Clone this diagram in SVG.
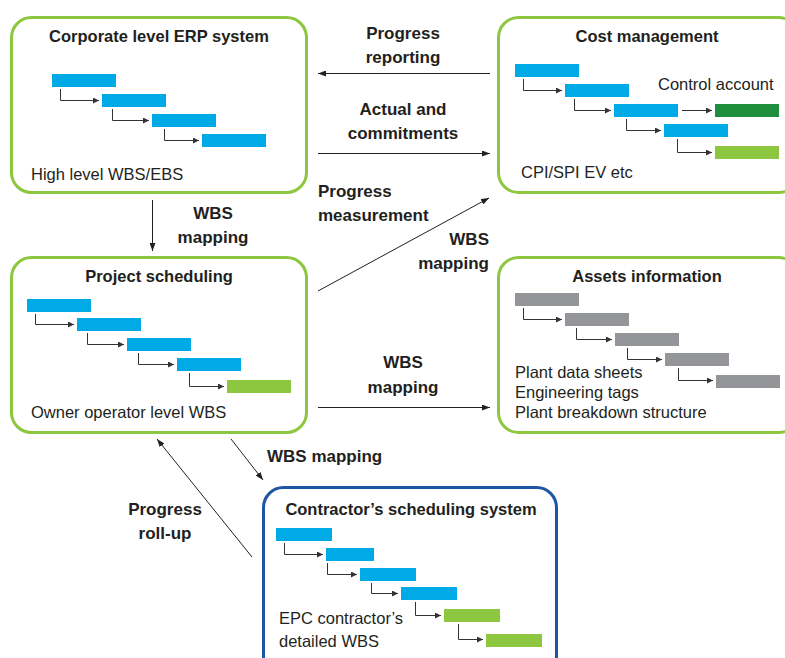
<svg xmlns="http://www.w3.org/2000/svg" width="785" height="658" viewBox="0 0 785 658">
  <style>
    .box { fill: #ffffff; stroke: #8dc63f; stroke-width: 3; }
    .box-blue { fill: #ffffff; stroke: #1d56a3; stroke-width: 3; }
    .title { font-family: "Liberation Sans", Arial, sans-serif; font-weight: bold; font-size: 16.5px; fill: #231f20; text-anchor: middle; }
    .body { font-family: "Liberation Sans", Arial, sans-serif; font-size: 16.5px; fill: #231f20; }
    .label { font-family: "Liberation Sans", Arial, sans-serif; font-weight: bold; font-size: 17px; fill: #231f20; }
    .mid { text-anchor: middle; }
    .end { text-anchor: end; }
    .bar-blue { fill: #00aae7; }
    .bar-lgreen { fill: #8dc63f; }
    .bar-dgreen { fill: #1e8d3c; }
    .bar-grey { fill: #939598; }
    .link { fill: none; stroke: #333333; stroke-width: 1; marker-end: url(#tick); }
    .flow { fill: none; stroke: #231f20; stroke-width: 1; marker-end: url(#head); }
  </style>
  <defs>
    <marker id="tick" viewBox="0 0 6 6" refX="6" refY="3" markerWidth="6" markerHeight="6" markerUnits="userSpaceOnUse" orient="auto">
      <path d="M0 0L6 3L0 6z" fill="#333333"/>
    </marker>
    <marker id="head" viewBox="0 0 8 6" refX="8" refY="3" markerWidth="8" markerHeight="6" markerUnits="userSpaceOnUse" orient="auto">
      <path d="M0 0L8 3L0 6z" fill="#231f20"/>
    </marker>
  </defs>

  <rect width="785" height="658" fill="#ffffff"/>

  <!-- Corporate level ERP system -->
  <g id="erp">
    <rect class="box" x="11.5" y="17.5" width="295" height="175" rx="20"/>
    <text class="title" x="159" y="42">Corporate level ERP system</text>
    <rect class="bar-blue" x="52" y="74" width="64" height="13"/>
    <rect class="bar-blue" x="102" y="94" width="64" height="13"/>
    <rect class="bar-blue" x="152" y="114" width="64" height="13"/>
    <rect class="bar-blue" x="202" y="134" width="64" height="13"/>
    <path class="link" d="M60.5 89V100.5H99"/>
    <path class="link" d="M112.5 109V120.5H149"/>
    <path class="link" d="M164.5 129V140.5H199"/>
    <text class="body" x="31" y="180">High level WBS/EBS</text>
  </g>

  <!-- Cost management -->
  <g id="cost">
    <rect class="box" x="498.5" y="17.5" width="300" height="175" rx="20"/>
    <text class="title" x="647" y="42">Cost management</text>
    <text class="body" x="658" y="90">Control account</text>
    <rect class="bar-blue" x="515" y="64" width="64" height="13"/>
    <rect class="bar-blue" x="565" y="84" width="64" height="13"/>
    <rect class="bar-blue" x="614" y="104" width="64" height="13"/>
    <rect class="bar-dgreen" x="715" y="104" width="64" height="13"/>
    <rect class="bar-blue" x="664" y="124" width="64" height="13"/>
    <rect class="bar-lgreen" x="715" y="146" width="64" height="13"/>
    <path class="link" d="M523.5 79V90.5H562"/>
    <path class="link" d="M574.5 99V110.5H611"/>
    <path class="link" d="M682 110.5H712"/>
    <path class="link" d="M626.5 119V130.5H661"/>
    <path class="link" d="M677.5 139V152.5H712"/>
    <text class="body" x="521" y="178">CPI/SPI EV etc</text>
  </g>

  <!-- Project scheduling -->
  <g id="project">
    <rect class="box" x="11.5" y="257.5" width="295" height="175" rx="20"/>
    <text class="title" x="159" y="282">Project scheduling</text>
    <rect class="bar-blue" x="27" y="299" width="64" height="13"/>
    <rect class="bar-blue" x="77" y="318" width="64" height="13"/>
    <rect class="bar-blue" x="127" y="338" width="64" height="13"/>
    <rect class="bar-blue" x="177" y="358" width="64" height="13"/>
    <rect class="bar-lgreen" x="227" y="380" width="64" height="13"/>
    <path class="link" d="M35.5 314V324.5H74"/>
    <path class="link" d="M87.5 333V344.5H124"/>
    <path class="link" d="M138.5 353V364.5H174"/>
    <path class="link" d="M189.5 373V386.5H224"/>
    <text class="body" x="31" y="418">Owner operator level WBS</text>
  </g>

  <!-- Assets information -->
  <g id="assets">
    <rect class="box" x="498.5" y="257.5" width="300" height="175" rx="20"/>
    <text class="title" x="647" y="282">Assets information</text>
    <rect class="bar-grey" x="515" y="293" width="64" height="13"/>
    <rect class="bar-grey" x="565" y="313" width="64" height="13"/>
    <rect class="bar-grey" x="615" y="333" width="64" height="13"/>
    <rect class="bar-grey" x="665" y="353" width="64" height="13"/>
    <rect class="bar-grey" x="716" y="375" width="64" height="13"/>
    <path class="link" d="M523.5 308V319.5H562"/>
    <path class="link" d="M576.5 328V339.5H612"/>
    <path class="link" d="M627.5 348V359.5H662"/>
    <path class="link" d="M678.5 368V380.5H713"/>
    <text class="body" x="515" y="378">Plant data sheets</text>
    <text class="body" x="515" y="398">Engineering tags</text>
    <text class="body" x="515" y="418">Plant breakdown structure</text>
  </g>

  <!-- Contractor's scheduling system -->
  <g id="contractor">
    <rect class="box-blue" x="263.5" y="487.5" width="293" height="190" rx="20"/>
    <text class="title" x="411" y="515">Contractor’s scheduling system</text>
    <rect class="bar-blue" x="276" y="528" width="56" height="13"/>
    <rect class="bar-blue" x="326" y="548" width="48" height="13"/>
    <rect class="bar-blue" x="360" y="568" width="56" height="13"/>
    <rect class="bar-blue" x="401" y="587" width="56" height="13"/>
    <rect class="bar-lgreen" x="444" y="609" width="56" height="13"/>
    <rect class="bar-lgreen" x="486" y="634" width="56" height="13"/>
    <path class="link" d="M284.5 543V554.5H323"/>
    <path class="link" d="M327.5 563V574.5H357"/>
    <path class="link" d="M371.5 583V593.5H398"/>
    <path class="link" d="M415.5 602V615.5H441"/>
    <path class="link" d="M458.5 624V639.5H483"/>
    <text class="body" x="279" y="624">EPC contractor’s</text>
    <text class="body" x="279" y="647">detailed WBS</text>
  </g>

  <!-- Connectors between systems -->
  <g id="connectors">
    <path class="flow" d="M490 73.5H318"/>
    <path class="flow" d="M318 153.5H490"/>
    <path class="flow" d="M152.5 200V251"/>
    <path class="flow" d="M318 291L489 198"/>
    <path class="flow" d="M318 407.5H490"/>
    <path class="flow" d="M231 439L263 480"/>
    <path class="flow" d="M252 557L157 439"/>
  </g>

  <!-- Connector labels -->
  <g id="labels">
    <text class="label mid" x="403" y="39">Progress</text>
    <text class="label mid" x="403" y="63">reporting</text>
    <text class="label mid" x="403" y="115">Actual and</text>
    <text class="label mid" x="403" y="139">commitments</text>
    <text class="label mid" x="213" y="219">WBS</text>
    <text class="label mid" x="213" y="243">mapping</text>
    <text class="label" x="318" y="197">Progress</text>
    <text class="label" x="318" y="221">measurement</text>
    <text class="label end" x="489" y="245">WBS</text>
    <text class="label end" x="489" y="269">mapping</text>
    <text class="label mid" x="403" y="368">WBS</text>
    <text class="label mid" x="403" y="393">mapping</text>
    <text class="label" x="267" y="462">WBS mapping</text>
    <text class="label mid" x="165" y="515">Progress</text>
    <text class="label mid" x="165" y="539">roll-up</text>
  </g>
</svg>
